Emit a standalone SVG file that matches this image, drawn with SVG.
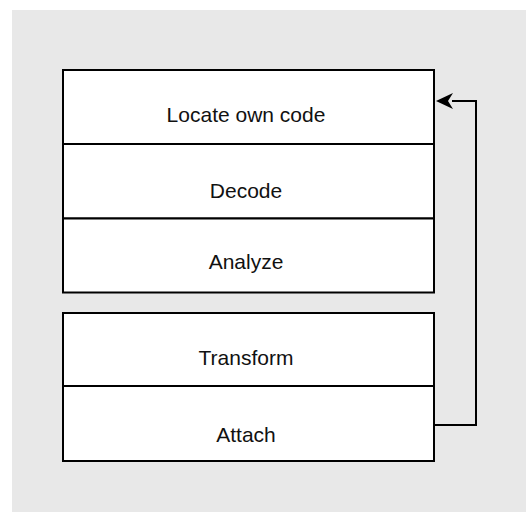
<svg xmlns="http://www.w3.org/2000/svg" width="526" height="512" viewBox="0 0 526 512">
  <style>
    .box { fill: #ffffff; stroke: #000000; stroke-width: 2; }
    .lbl { font-family: "Liberation Sans", Arial, sans-serif; font-size: 21px; fill: #111111; text-anchor: middle; }
    .conn { fill: none; stroke: #000000; stroke-width: 2; }
  </style>
  <defs>
    <marker id="arrow" markerWidth="10" markerHeight="10" refX="1" refY="5" orient="auto" markerUnits="userSpaceOnUse" viewBox="0 0 10 10">
      <path d="M0,5 L10,0 L7,5 L10,10 Z" fill="#000000"/>
    </marker>
  </defs>
  <rect x="12" y="10" width="514" height="502" fill="#e8e8e8"/>
  <g id="node-locate">
    <rect class="box" x="63" y="70" width="371" height="74"/>
    <text class="lbl" x="246" y="122">Locate own code</text>
  </g>
  <g id="node-decode">
    <rect class="box" x="63" y="144" width="371" height="74.5"/>
    <text class="lbl" x="246" y="198">Decode</text>
  </g>
  <g id="node-analyze">
    <rect class="box" x="63" y="218.5" width="371" height="74"/>
    <text class="lbl" x="246" y="269">Analyze</text>
  </g>
  <g id="node-transform">
    <rect class="box" x="63" y="313" width="371" height="73"/>
    <text class="lbl" x="246" y="365">Transform</text>
  </g>
  <g id="node-attach">
    <rect class="box" x="63" y="386" width="371" height="75"/>
    <text class="lbl" x="246" y="442">Attach</text>
  </g>
  <g id="connectors">
    <polyline class="conn" points="434,425 476,425 476,101 452,101"/>
    <path d="M436,101 L453,93 L448,101 L453,109 Z" fill="#000000"/>
  </g>
</svg>
